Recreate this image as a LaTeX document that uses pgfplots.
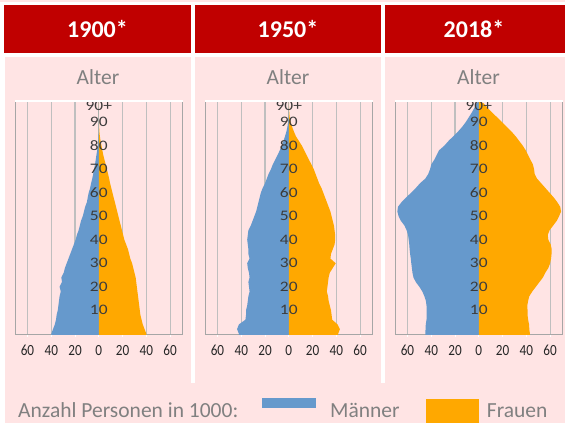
\documentclass[border=0pt]{standalone}
\usepackage{fontspec}
\setmainfont{Carlito}
\usepackage{graphicx}
\usepackage{pgfplots}
\pgfplotsset{compat=1.18}
\usepackage{pgfplotstable}

\definecolor{hdr}{HTML}{C00000}
\definecolor{pnk}{HTML}{FFE4E4}
\definecolor{mb}{HTML}{6699CC}
\definecolor{fo}{HTML}{FFA800}
\definecolor{gridg}{HTML}{BFBFBF}
\definecolor{frameg}{HTML}{A6A6A6}
\definecolor{txtg}{HTML}{808080}
\definecolor{agetxt}{HTML}{3C3C3C}

\pgfplotstableread{
age m f
-0.5 0 0
-0.5 40 40
0 40 40
2 38.5 38.5
4 37 37
6 36 36
8 35.5 35
10 34.5 34.5
12 34 34
14 33.5 33.5
16 33 33
18 32 32.5
20 33 32
22 31 31.5
24 31.5 31
26 29.5 30
28 28.5 29
30 27 28
32 25.5 26.5
34 24 25.5
36 22.5 24.5
38 21 23
40 19.5 21.5
42 18.5 20.5
44 17 19.5
46 16 18.5
48 15 17.5
50 13.5 16.5
52 12.5 15.5
54 11.5 14.5
56 10 13.5
58 9.3 12.5
60 8.5 11.5
62 7.3 10.5
64 6.5 9.5
66 5.5 8.7
68 4.7 7.8
70 4 6.8
72 3.2 5.8
74 2.6 4.8
76 2 3.8
78 1.4 3
80 0.8 2.3
82 0.5 1.5
84 0.3 0.9
86 0.2 0.5
88 0.1 0.3
90 0.1 0.2
92 0.05 0.1
94 0.05 0.05
96 0.05 0.05
98 0 0
99 0 0
}\tA

\pgfplotstableread{
age m f
-0.5 0 0
-0.5 42 41.5
0 42 41.5
2 43.5 43
4 42 41
6 36.5 36.5
8 36 36
10 36 35.5
12 35 34.5
14 34.5 33.5
16 34 33
18 33 32
20 33.5 32.5
22 34 33
24 33 33.5
26 33.5 34.5
28 34.5 37
30 35 39.5
32 33 35
34 34 35.5
36 34 37
38 34.5 38.5
40 35 39
42 34.5 39
44 34 38.5
46 32 38
48 30.5 37
50 29 36
52 27.5 35
54 26.5 33.5
56 25.5 32
58 24.5 30.5
60 23.5 29
62 22 27.5
64 20 25.5
66 18.5 24
68 17 22.5
70 15 21
72 13.5 19
74 11.5 17
76 9.5 15
78 7.6 13
80 6 11
82 4.5 8.5
84 3.2 6
86 2 4.3
88 1.2 2.8
90 0.6 1.6
92 0.3 0.8
94 0.1 0.4
96 0.05 0.2
98 0 0.1
99 0 0
}\tB

\pgfplotstableread{
age m f
-0.5 0 0
-0.5 45 43
0 45 43
2 44.8 42.5
4 44.6 42.3
6 44 41.5
8 43.8 41
10 43.8 41
12 44 40.8
14 44.5 41.5
16 45.8 42.5
18 47.5 45
20 50 48
22 53 51
24 55 54
26 55.8 56
28 56.3 58.5
30 56.8 60
32 57.2 60.8
34 57.8 61.2
36 58.2 61.3
38 58.5 60.5
40 59 58.5
42 59.5 58
44 60.7 59.5
46 62.5 62.5
48 65.5 65.5
50 67.5 67.5
52 68.5 69.2
54 68 68.5
56 65 66
58 61 63
60 57 59.5
62 53 56
64 49.5 52.5
66 45 49
68 42.5 47
70 41 46.5
72 40 45.5
74 37.5 43.5
76 35.5 41.5
78 33.5 39.5
80 29 37
82 25.5 34
84 21.5 31
86 17.5 27.5
88 14 23.5
90 11 19.5
92 8.5 15.5
94 6 11.5
96 3.8 7.5
98 2 4
99 0 0
}\tC

\pgfplotsset{
  pyr/.style={
    scale only axis, width=167.6pt, height=234pt, anchor=south west,
    xmin=-70.5, xmax=70.5, ymin=-0.5, ymax=99,
    xtick={-60,-40,...,60},
    xticklabels={\scalebox{0.85}[1]{60},\scalebox{0.85}[1]{40},\scalebox{0.85}[1]{20},\scalebox{0.85}[1]{0},\scalebox{0.85}[1]{20},\scalebox{0.85}[1]{40},\scalebox{0.85}[1]{60}},
    ytick=\empty,
    xmajorgrids, grid style={draw=gridg, line width=1.1pt},
    axis line style={draw=frameg, line width=1pt},
    xtick style={draw=white, line width=1pt}, major tick length=2pt, tick align=outside,
    xtick pos=bottom,
    xticklabel style={font=\fontsize{15.5}{18}\selectfont, text=black!85, yshift=-5pt},
    /pgf/number format/assume math mode=true,
    clip=false,
  },
}
\tikzset{agelab/.style={font=\fontsize{14.5}{17}\selectfont, text=agetxt, inner sep=0pt}}

\newcommand{\ages}{%
  \pgfplotsinvokeforeach{10,20,...,90}{\node[agelab] at (axis cs:0,##1) {\scalebox{1.2}[1]{##1}};}
  \node[agelab] at (axis cs:0,97) {\scalebox{1.2}[1]{90+}};
  \draw[white, line width=1.6pt] (rel axis cs:0,1) -- (rel axis cs:1,1);
}

\begin{document}
\begin{tikzpicture}[x=1pt,y=1pt]
\fill[white] (0pt,0pt) rectangle (565pt,423pt);
\fill[pnk] (0pt,421.4pt) rectangle (565pt,423pt);
% headers
\fill[hdr] (4pt,370pt) rectangle (191pt,418pt);
\fill[hdr] (195pt,370pt) rectangle (381pt,418pt);
\fill[hdr] (385pt,370pt) rectangle (565pt,418pt);
% panels
\fill[pnk] (4.7pt,40pt) rectangle (190.7pt,366pt);
\fill[pnk] (195pt,40pt) rectangle (380.7pt,366pt);
\fill[pnk] (385pt,40pt) rectangle (565pt,366pt);
\fill[pnk] (4.7pt,0pt) rectangle (565pt,40pt);
% header texts
\node[text=white, font=\bfseries\fontsize{24}{28}\selectfont, anchor=base, inner sep=0pt] at (97.5pt,385pt) {1900*};
\node[text=white, font=\bfseries\fontsize{24}{28}\selectfont, anchor=base, inner sep=0pt] at (288pt,385pt) {1950*};
\node[text=white, font=\bfseries\fontsize{24}{28}\selectfont, anchor=base, inner sep=0pt] at (474pt,385pt) {2018*};
% Alter
\node[text=txtg, font=\fontsize{21.5}{25}\selectfont, inner sep=0pt] at (98pt,345.5pt) {Alter};
\node[text=txtg, font=\fontsize{21.5}{25}\selectfont, inner sep=0pt] at (288pt,345.5pt) {Alter};
\node[text=txtg, font=\fontsize{21.5}{25}\selectfont, inner sep=0pt] at (478.5pt,345.5pt) {Alter};

\begin{axis}[pyr, at={(15pt,88pt)}]
  \addplot[fill=mb, draw=none] table[x expr=-\thisrow{m}, y=age] {\tA};
  \addplot[fill=fo, draw=none] table[x=f, y=age] {\tA};
  \ages
\end{axis}
\begin{axis}[pyr, at={(205pt,88pt)}]
  \addplot[fill=mb, draw=none] table[x expr=-\thisrow{m}, y=age] {\tB};
  \addplot[fill=fo, draw=none] table[x=f, y=age] {\tB};
  \ages
\end{axis}
\begin{axis}[pyr, at={(395pt,88pt)}]
  \addplot[fill=mb, draw=none] table[x expr=-\thisrow{m}, y=age] {\tC};
  \addplot[fill=fo, draw=none] table[x=f, y=age] {\tC};
  \ages
\end{axis}

% legend
\node[anchor=base west, text=txtg, font=\fontsize{21.5}{25}\selectfont, inner sep=0pt] at (18pt,5.7pt) {Anzahl Personen in 1000:};
\fill[mb] (261.7pt,14.7pt) rectangle (315.7pt,24.7pt);
\node[anchor=base west, text=txtg, font=\fontsize{21.5}{25}\selectfont, inner sep=0pt] at (330pt,5.7pt) {Männer};
\fill[fo] (426pt,0pt) rectangle (479pt,24pt);
\node[anchor=base west, text=txtg, font=\fontsize{21.5}{25}\selectfont, inner sep=0pt] at (486.7pt,5.7pt) {Frauen};

\pgfresetboundingbox
\path[use as bounding box] (0pt,0pt) rectangle (565pt,423pt);
\end{tikzpicture}
\end{document}
